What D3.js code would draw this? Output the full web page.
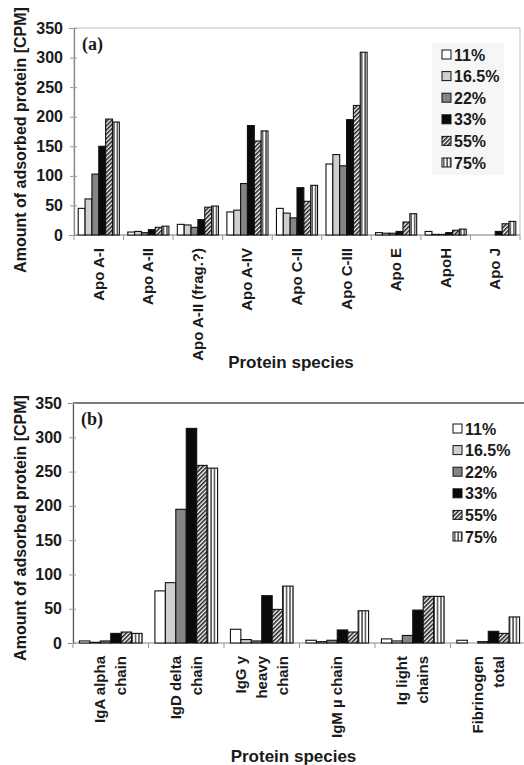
<!DOCTYPE html>
<html>
<head>
<meta charset="utf-8">
<script src="https://cdn.jsdelivr.net/npm/d3@7"></script>
<style>
  body { margin: 0; background: #fff; }
  svg { display: block; font-family: "Liberation Sans", Arial, sans-serif; }
</style>
</head>
<body>
<div id="chart"></div>
<script>
// Series (percent labels)
const seriesNames = ["11%", "16.5%", "22%", "33%", "55%", "75%"];
const yTicks = [0, 50, 100, 150, 200, 250, 300, 350];

// Panel (a): apolipoproteins
const apoCategories = ["Apo A-I", "Apo A-II", "Apo A-II (frag.?)", "Apo A-IV", "Apo C-II", "Apo C-III", "Apo E", "ApoH", "Apo J"];
const apo11 = [45, 5, 18, 39, 45, 120, 4, 6, 0];
const apo16 = [61, 6, 17, 42, 37, 136, 3, 1, 0];
const apo22 = [103, 4, 13, 87, 29, 117, 3, 1, 0];
const apo33 = [150, 9, 26, 185, 80, 195, 6, 4, 6];
const apo55 = [196, 13, 47, 159, 57, 219, 22, 8, 19];
const apo75 = [191, 15, 49, 176, 84, 309, 36, 10, 23];

// Panel (b): immunoglobulins + fibrinogen (lines of the wrapped labels)
const igCategories = [["IgA alpha", "chain"], ["IgD delta", "chain"], ["IgG y", "heavy", "chain"], ["IgM \u00b5 chain"], ["Ig light", "chains"], ["Fibrinogen", "total"]];
const ig11 = [3, 76, 20, 4, 6, 4];
const ig16 = [1, 88, 5, 2, 3, 0];
const ig22 = [3, 195, 3, 4, 11, 2];
const ig33 = [14, 313, 69, 19, 48, 17];
const ig55 = [16, 259, 49, 16, 68, 14];
const ig75 = [14, 255, 83, 47, 68, 38];

const W = 524, H = 765;
const svg = d3.select("#chart").append("svg").attr("width", W).attr("height", H);

// Fill patterns
const defs = svg.append("defs");
const hatch = defs.append("pattern")
  .attr("id", "hatch").attr("patternUnits", "userSpaceOnUse")
  .attr("width", 3).attr("height", 3)
  .attr("patternTransform", "rotate(45)");
hatch.append("rect").attr("width", 3).attr("height", 3).attr("fill", "#fff");
hatch.append("rect").attr("width", 1.6).attr("height", 3).attr("fill", "#222");

const vstripe = defs.append("pattern")
  .attr("id", "vstripe").attr("patternUnits", "userSpaceOnUse")
  .attr("width", 3.4).attr("height", 4);
vstripe.append("rect").attr("width", 3.4).attr("height", 4).attr("fill", "#fff");
vstripe.append("rect").attr("x", 1.2).attr("width", 1.1).attr("height", 4).attr("fill", "#111");

const fills = ["#ffffff", "#cfcfcf", "#858585", "#0a0a0a", "url(#hatch)", "url(#vstripe)"];
const color = d3.scaleOrdinal().domain(seriesNames).range(fills);

function drawPanel(opt) {
  const g = svg.append("g");
  const keys = opt.categories.map((c, i) => i);

  const x = d3.scaleBand().domain(keys).range([opt.left, opt.right])
    .paddingInner(0.17).paddingOuter(0.085);
  const xs = d3.scaleBand().domain(seriesNames).range([0, x.bandwidth()]);
  const y = d3.scaleLinear().domain([0, 350]).range([opt.bottom, opt.top]);

  // plot frame
  g.append("rect")
    .attr("x", opt.left).attr("y", opt.top)
    .attr("width", opt.right - opt.left).attr("height", opt.bottom - opt.top)
    .attr("fill", "none").attr("stroke", opt.frameColor).attr("stroke-width", opt.frameWidth);
  if (opt.topColor) {
    g.append("line").attr("x1", opt.left).attr("x2", opt.right)
      .attr("y1", opt.top).attr("y2", opt.top)
      .attr("stroke", opt.topColor).attr("stroke-width", 1.5);
  }

  // y axis
  const yAxis = g.append("g")
    .attr("transform", `translate(${opt.left},0)`)
    .call(d3.axisLeft(y).tickValues(yTicks).tickSize(5).tickPadding(6));
  yAxis.select(".domain").attr("stroke", opt.axisColor).attr("stroke-width", 1.2);
  yAxis.selectAll(".tick line").attr("stroke", "#999").attr("x2", 3).attr("x1", -4);
  yAxis.selectAll(".tick text")
    .style("font-size", "16px").style("font-weight", "bold").attr("fill", "#1a1a1a");

  // x axis baseline and ticks between categories
  g.append("line").attr("x1", opt.left).attr("x2", opt.right)
    .attr("y1", y(0)).attr("y2", y(0)).attr("stroke", "#999").attr("stroke-width", 1);
  const step = x.step();
  const bounds = keys.map(k => x(k) - step * 0.085).concat([opt.right]);
  g.selectAll(".xtick").data(bounds).enter().append("line")
    .attr("x1", d => d).attr("x2", d => d)
    .attr("y1", y(0)).attr("y2", y(0) + 5)
    .attr("stroke", "#999");

  // bars
  const groups = g.selectAll(".grp").data(keys).enter().append("g")
    .attr("transform", k => `translate(${x(k)},0)`);
  groups.selectAll("rect")
    .data(k => seriesNames.map((s, si) => ({ s, v: opt.values[si][k] })))
    .enter().append("rect")
    .filter(d => d.v > 0)
    .attr("x", d => xs(d.s))
    .attr("y", d => y(d.v))
    .attr("width", xs.bandwidth())
    .attr("height", d => y(0) - y(d.v))
    .attr("fill", d => color(d.s))
    .attr("stroke", "#111")
    .attr("stroke-width", 1.1);

  // category labels, rotated
  const lab = g.selectAll(".xlab").data(keys).enter().append("text")
    .attr("transform", k => `translate(${x(k) + x.bandwidth() / 2},${opt.bottom + 13}) rotate(-90)`)
    .attr("text-anchor", "end")
    .style("font-size", "15px").style("font-weight", "bold").attr("fill", "#1a1a1a");
  lab.selectAll("tspan")
    .data(k => opt.categories[k].map((t, i, arr) => ({ t, off: (i - (arr.length - 1) / 2) * opt.lineGap })))
    .enter().append("tspan")
    .attr("x", 0)
    .attr("y", d => d.off + 5)
    .text(d => d.t);

  // axis titles
  g.append("text")
    .attr("x", (opt.left + opt.right) / 2 - 6).attr("y", opt.xTitleY)
    .attr("text-anchor", "middle")
    .style("font-size", "17px").style("font-weight", "bold").attr("fill", "#1a1a1a")
    .text("Protein species");
  g.append("text")
    .attr("transform", `translate(26,${opt.yTitleY}) rotate(-90)`)
    .attr("text-anchor", "middle")
    .style("font-size", "16px").style("font-weight", "bold").attr("fill", "#1a1a1a")
    .text("Amount of adsorbed protein [CPM]");

  // panel letter
  g.append("text")
    .attr("x", opt.left + 8).attr("y", opt.top + 22)
    .style("font-family", "'Liberation Serif', 'Times New Roman', serif")
    .style("font-size", "18px").style("font-weight", "bold").attr("fill", "#1a1a1a")
    .text(opt.letter);

  // legend
  const leg = g.append("g").attr("transform", `translate(${opt.legX},${opt.legY})`);
  if (opt.legBg) {
    leg.append("rect").attr("x", -10).attr("y", -12)
      .attr("width", 72).attr("height", 132).attr("fill", opt.legBg);
  }
  const items = leg.selectAll(".li").data(seriesNames).enter().append("g")
    .attr("transform", (d, i) => `translate(0,${i * 21.6})`);
  items.append("rect")
    .attr("x", 0).attr("y", -5).attr("width", 9).attr("height", 9)
    .attr("fill", d => color(d)).attr("stroke", "#111").attr("stroke-width", 1);
  items.append("text")
    .attr("x", 12).attr("y", 5.5)
    .style("font-size", "16px").style("font-weight", "bold").attr("fill", "#1a1a1a")
    .text(d => d);
}

drawPanel({
  categories: apoCategories.map(c => [c]),
  values: [apo11, apo16, apo22, apo33, apo55, apo75],
  left: 74, right: 520, top: 28, bottom: 235,
  frameColor: "#c8c8c8", frameWidth: 1.2, axisColor: "#888",
  lineGap: 20, xTitleY: 368, yTitleY: 140, letter: "(a)",
  legX: 442, legY: 55, legBg: "#f6f6f6"
});

drawPanel({
  categories: igCategories,
  values: [ig11, ig16, ig22, ig33, ig55, ig75],
  left: 73, right: 526, top: 403, bottom: 643,
  frameColor: "#ddd", frameWidth: 1, axisColor: "#555", topColor: "#555",
  lineGap: 21, xTitleY: 762, yTitleY: 528, letter: "(b)",
  legX: 453, legY: 429, legBg: null
});
</script>
</body>
</html>
